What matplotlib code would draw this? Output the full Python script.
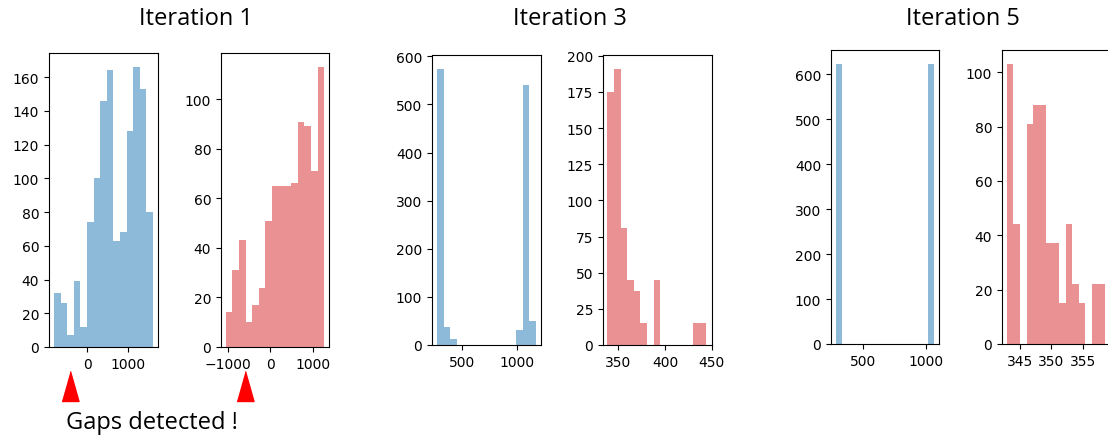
import numpy as np
import matplotlib
matplotlib.use("Agg")
import matplotlib.pyplot as plt
from matplotlib.transforms import blended_transform_factory

# bin range (lo, hi) and counts for each histogram, 15 bins each
it1_blue_range = (-813, 1618)
it1_blue = [32, 26, 7, 39, 12, 74, 100, 146, 164, 63, 68, 128, 166, 153, 80]
it1_red_range = (-1046, 1271)
it1_red = [14, 31, 43, 10, 17, 24, 51, 65, 65, 65, 66, 91, 89, 71, 113]
it3_blue_range = (274, 1172)
it3_blue = [574, 37, 12, 0, 0, 0, 0, 0, 0, 0, 0, 0, 32, 540, 50]
it3_red_range = (338.3, 444.5)
it3_red = [175, 191, 81, 45, 37, 15, 0, 45, 0, 0, 0, 0, 0, 15, 15]
it5_blue_range = (280, 1066)
it5_blue = [623, 0, 0, 0, 0, 0, 0, 0, 0, 0, 0, 0, 0, 0, 622]
it5_red_range = (342.9, 358.6)
it5_red = [103, 44, 0, 81, 88, 88, 37, 37, 15, 44, 22, 15, 0, 22, 22]

xticks = [[0, 1000], [-1000, 0, 1000], [500, 1000], [350, 400, 450],
          [500, 1000], [345, 350, 355]]
yticks = [range(0, 161, 20), range(0, 101, 20), range(0, 601, 100),
          range(0, 201, 25), range(0, 601, 100), range(0, 101, 20)]
titles = ["Iteration 1", "Iteration 3", "Iteration 5"]
gap_x = [-424, -605]  # where the arrows point, iteration 1

W, H = 1108, 439
fig = plt.figure(figsize=(W / 100, H / 100), dpi=100)

# axes boxes in pixels: left, top, right, bottom
boxes = [(49, 54, 158, 348), (221, 54, 329, 348),
         (432, 56, 541, 346), (603, 56, 712, 346),
         (831, 51, 939, 345), (1002, 51, 1110, 345)]

data = [(it1_blue_range, it1_blue, "#1f77b4"), (it1_red_range, it1_red, "#d62728"),
        (it3_blue_range, it3_blue, "#1f77b4"), (it3_red_range, it3_red, "#d62728"),
        (it5_blue_range, it5_blue, "#1f77b4"), (it5_red_range, it5_red, "#d62728")]

axes = []
for i, (box, (rng, counts, col)) in enumerate(zip(boxes, data)):
    l, t, r, b = box
    ax = fig.add_axes([l / W, (H - b) / H, (r - l) / W, (b - t) / H])
    edges = np.linspace(rng[0], rng[1], len(counts) + 1)
    centers = (edges[:-1] + edges[1:]) / 2
    ax.hist(centers, bins=edges, weights=counts, color=col, alpha=0.5)
    ax.set_xticks(xticks[i])
    ax.set_yticks(list(yticks[i]))
    axes.append(ax)

axes[3].set_xlim(333.5, 450.5)

for (cx, txt) in zip([196, 570, 963], titles):
    fig.text(cx / W, (H - 25) / H, txt, ha="center", va="baseline",
             fontsize=17, family="Open Sans")

tri = [(-8.5, -15), (8.5, -15), (0, 15)]
for ax, gx in zip(axes[:2], gap_x):
    trans = blended_transform_factory(ax.transData, ax.transAxes)
    ax.plot([gx], [-0.133], marker=tri, markersize=21.6, color="red",
            transform=trans, clip_on=False, linestyle="none")

fig.text(66 / W, (H - 429) / H, "Gaps detected !", ha="left", va="baseline",
         fontsize=17, family="Open Sans")

fig.savefig("out.png", dpi=100)
